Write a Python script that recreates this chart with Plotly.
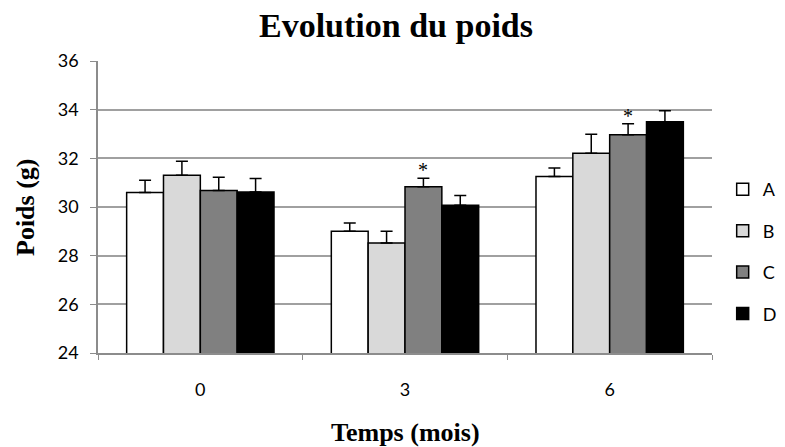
import plotly.graph_objects as go

categories = ["0", "3", "6"]
series_names = ["A", "B", "C", "D"]
values_A = [30.6, 29.0, 31.25]
values_B = [31.3, 28.52, 32.21]
values_C = [30.68, 30.83, 32.97]
values_D = [30.62, 30.07, 33.5]
err_A = [0.5, 0.34, 0.35]
err_B = [0.58, 0.48, 0.78]
err_C = [0.54, 0.35, 0.45]
err_D = [0.55, 0.4, 0.46]
stars_C = ["", "*", "*"]
yticks = [24, 26, 28, 30, 32, 34, 36]

colors = ["#ffffff", "#d9d9d9", "#808080", "#000000"]
values = [values_A, values_B, values_C, values_D]
errs = [err_A, err_B, err_C, err_D]

W, H = 810, 447
bargap = 0.28
fig = go.Figure()
for i, name in enumerate(series_names):
    fig.add_trace(go.Bar(
        x=categories, y=values[i], name=name, legendgroup=name,
        marker=dict(color=colors[i], line=dict(color="#000000", width=1.5)),
        error_y=dict(type="data", array=errs[i], arrayminus=[0]*len(errs[i]),
                     symmetric=False, color="#000000", thickness=1.5, width=6),
    ))

bw = (1 - bargap) / len(series_names)
ci = series_names.index("C")
for j, s in enumerate(stars_C):
    if s:
        fig.add_annotation(
            x=j + (ci - (len(series_names) - 1) / 2) * bw,
            y=values_C[j] + err_C[j], text=s, showarrow=False,
            yanchor="bottom", yshift=-5,
            font=dict(family="Liberation Serif", size=20, color="#000000"))

# axis titles
fig.add_annotation(text="<b>Temps (mois)</b>", xref="paper", yref="paper",
                   x=0.5, y=0, xanchor="center", yanchor="middle", yshift=-79,
                   showarrow=False,
                   font=dict(family="Liberation Serif", size=26, color="#000000"))
fig.add_annotation(text="<b>Poids (g)</b>", xref="paper", yref="paper",
                   x=0, y=0.5, xanchor="center", yanchor="middle", xshift=-73,
                   textangle=-90, showarrow=False,
                   font=dict(family="Liberation Serif", size=26, color="#000000"))

fig.update_layout(
    width=W, height=H,
    paper_bgcolor="#ffffff", plot_bgcolor="#ffffff",
    margin=dict(l=90, r=W - 704, t=53, b=H - 345),
    barmode="group", bargap=bargap, bargroupgap=0,
    title=dict(text="<b>Evolution du poids</b>", xref="container",
               x=388 / W, xanchor="center",
               y=1 - 17 / H, yanchor="middle",
               font=dict(family="Liberation Serif", size=34, color="#000000")),
    font=dict(family="Lato", size=18, color="#000000"),
    showlegend=True,
    legend=dict(x=1.0174, xanchor="left", y=0.623, yanchor="top",
                tracegroupgap=15, font=dict(family="Lato", size=18),
                bgcolor="rgba(0,0,0,0)"),
    xaxis=dict(type="category", showgrid=False, showline=True,
               linecolor="#8c8c8c", linewidth=1.5, ticks="outside",
               tickson="boundaries", tickcolor="#8c8c8c", ticklen=5,
               ticklabelstandoff=20),
    yaxis=dict(range=[24, 36], tickvals=yticks, showgrid=True,
               gridcolor="#a0a0a0", gridwidth=1.5, showline=True,
               linecolor="#8c8c8c", linewidth=1.5, ticks="outside",
               tickcolor="#8c8c8c", ticklen=6, zeroline=False,
               ticklabelstandoff=8),
)

fig.write_html("out.html")
